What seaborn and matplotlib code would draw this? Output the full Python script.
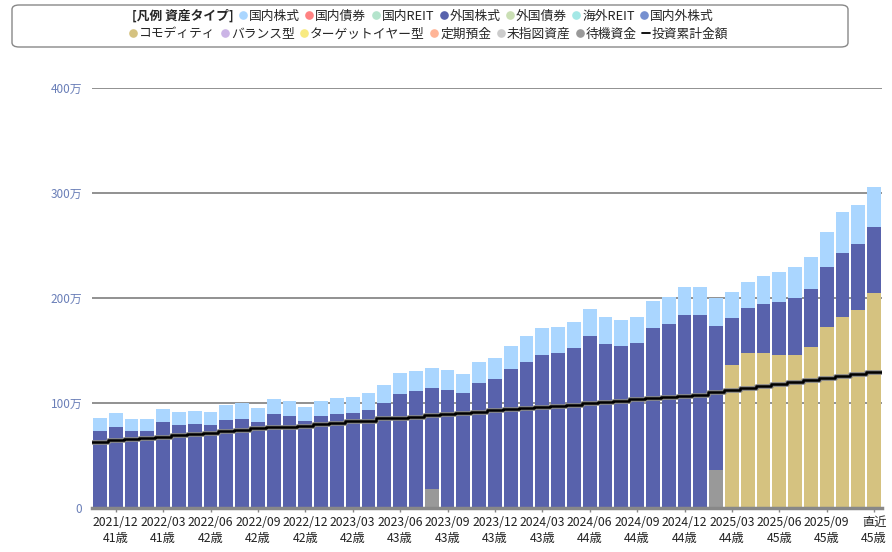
import numpy as np
import matplotlib
matplotlib.use('Agg')
import matplotlib.pyplot as plt
import matplotlib.patheffects as pe
from matplotlib.lines import Line2D
from matplotlib.patches import FancyBboxPatch
import seaborn as sns

# monthly asset breakdown (unit: 万円)
months = ['2021/11', '2021/12', '2022/01', '2022/02', '2022/03', '2022/04', '2022/05', '2022/06',
          '2022/07', '2022/08', '2022/09', '2022/10', '2022/11', '2022/12', '2023/01', '2023/02',
          '2023/03', '2023/04', '2023/05', '2023/06', '2023/07', '2023/08', '2023/09', '2023/10',
          '2023/11', '2023/12', '2024/01', '2024/02', '2024/03', '2024/04', '2024/05', '2024/06',
          '2024/07', '2024/08', '2024/09', '2024/10', '2024/11', '2024/12', '2025/01', '2025/02',
          '2025/03', '2025/04', '2025/05', '2025/06', '2025/07', '2025/08', '2025/09', '2025/10',
          '2025/11', '直近']

kokunai_kabu = [12.3, 13.4, 12.1, 12.1, 13.0, 13.0, 13.0, 13.0, 14.3, 14.9,
                13.7, 14.3, 14.9, 13.6, 14.9, 15.0, 15.8, 16.1, 17.8, 19.7,
                19.4, 19.4, 19.3, 18.7, 20.4, 20.7, 22.5, 24.7, 25.7, 24.8,
                25.1, 25.7, 25.6, 25.4, 25.4, 26.4, 26.1, 27.3, 27.3, 26.4,
                25.0, 25.4, 27.0, 29.2, 29.8, 31.1, 33.4, 39.0, 37.8, 38.1]
gaikoku_kabu = [73.7, 76.8, 73.0, 73.0, 81.6, 78.7, 79.7, 78.7, 83.5, 85.1,
                81.9, 89.8, 87.3, 82.9, 87.3, 90.0, 90.2, 93.7, 99.7, 108.6,
                111.4, 95.9, 112.4, 109.2, 119.0, 122.5, 132.1, 139.4, 146.0, 147.9,
                152.4, 164.1, 156.6, 154.0, 156.8, 171.1, 175.2, 183.5, 183.5, 137.1,
                44.5, 42.9, 46.4, 49.9, 54.0, 55.3, 57.4, 61.0, 62.2, 63.1]
commodity = [0] * 40 + [136.5, 147.3, 147.9, 146.0, 146.0, 153.0, 172.4, 182.2, 188.9, 204.8]
taiki = [0] * 21 + [18.4] + [0] * 17 + [36.2] + [0] * 10
invest_total = [63.2, 64.8, 66.0, 67.0, 67.9, 69.5, 70.5, 71.7, 73.0, 74.0,
                75.9, 76.8, 77.5, 78.4, 80.3, 81.3, 82.5, 83.2, 85.4, 86.0,
                87.0, 88.3, 89.8, 90.5, 91.1, 93.0, 94.6, 95.6, 96.5, 97.5,
                98.4, 100.0, 100.8, 102.2, 103.8, 104.8, 105.7, 106.7, 107.6, 110.8,
                112.7, 114.3, 116.5, 118.4, 120.3, 122.2, 124.1, 126.0, 127.9, 129.8]

tick_months = ['2021/12', '2022/03', '2022/06', '2022/09', '2022/12', '2023/03', '2023/06',
               '2023/09', '2023/12', '2024/03', '2024/06', '2024/09', '2024/12', '2025/03',
               '2025/06', '2025/09', '直近']
tick_ages = ['41歳', '41歳', '42歳', '42歳', '42歳', '42歳', '43歳', '43歳', '43歳', '43歳',
             '44歳', '44歳', '44歳', '44歳', '45歳', '45歳', '45歳']
yticks = [0, 100, 200, 300, 400]

legend_row1 = ['国内株式', '国内債券', '国内REIT', '外国株式', '外国債券', '海外REIT', '国内外株式']
legend_row2 = ['コモディティ', 'バランス型', 'ターゲットイヤー型', '定期預金', '未指図資産', '待機資金']
colors = {'国内株式': '#aad6ff', '国内債券': '#ff8282', '国内REIT': '#b4e4cc', '外国株式': '#5862ac',
          '外国債券': '#cadfb4', '海外REIT': '#a4e8e6', '国内外株式': '#7690d0', 'コモディティ': '#d5c280',
          'バランス型': '#cbb4e6', 'ターゲットイヤー型': '#f8ea80', '定期預金': '#ffb496',
          '未指図資産': '#cccccc', '待機資金': '#999999'}

sns.set_theme(style='white')
plt.rcParams['font.family'] = ['Noto Sans CJK JP', 'DejaVu Sans']

fig = plt.figure(figsize=(8.92, 5.52), dpi=100)
ax = fig.add_axes([92 / 892, 44 / 552, 790 / 892, 420 / 552])

# stacked bars: draw cumulative heights from the top layer down
k = np.array(kokunai_kabu)
g = np.array(gaikoku_kabu)
c = np.array(commodity)
t = np.array(taiki)
layers = [('国内株式', k + g + c + t), ('外国株式', g + c + t), ('コモディティ', c + t), ('待機資金', t)]
for name, height in layers:
    sns.barplot(x=months, y=height, color=colors[name], saturation=1, width=0.88,
                linewidth=0, errorbar=None, ax=ax)

# cumulative investment as step line across bar edges
xs = np.arange(len(months) + 1) - 0.5
ys = invest_total + [invest_total[-1]]
ax.plot(xs, ys, drawstyle='steps-post', color='black', lw=1.8, zorder=5,
        path_effects=[pe.withStroke(linewidth=3.4, foreground='#8a8a8a')])

ax.set_xlim(-0.5, len(months) - 0.5)
ax.set_ylim(0, 400)
ax.set_yticks(yticks)
ax.set_yticklabels([f'{v}万' if v else '0' for v in yticks], color='#6a7fb8', fontsize=8.5)
ax.yaxis.grid(True, color='#888888', lw=1.3)
ax.set_axisbelow(True)
for s in ['top', 'right', 'left']:
    ax.spines[s].set_visible(False)
ax.spines['bottom'].set_color('#888888')
ax.spines['bottom'].set_linewidth(2.5)
ax.tick_params(axis='y', length=0, pad=7)
ax.tick_params(axis='x', length=3, width=1, color='#888888', pad=3, bottom=True)
ax.set_xticks([months.index(m) for m in tick_months])
ax.set_xticklabels([f'{m}\n{a}' for m, a in zip(tick_months, tick_ages)],
                   fontsize=8.8, color='#222222', linespacing=1.25)
ax.set_xlabel('')
ax.set_ylabel('')

# legend box
box = FancyBboxPatch((12 / 892, (552 - 47) / 552), 836 / 892, 42 / 552,
                     boxstyle='round,pad=0,rounding_size=0.008', transform=fig.transFigure,
                     facecolor='white', edgecolor='#888888', lw=1)
fig.patches.append(box)

h1 = [Line2D([], [], linestyle='', marker='')]
h1 += [Line2D([], [], linestyle='', marker='o', markersize=5.2, color=colors[n]) for n in legend_row1]
leg1 = fig.legend(h1, ['[凡例 資産タイプ]'] + legend_row1, loc='center', ncol=len(h1),
                  bbox_to_anchor=(418 / 892, 1 - 16 / 552), frameon=False, fontsize=9.2,
                  handlelength=0.6, handletextpad=0.15, columnspacing=0.45, borderpad=0, borderaxespad=0)
leg1.get_texts()[0].set_fontweight('bold')

h2 = [Line2D([], [], linestyle='', marker='o', markersize=5.2, color=colors[n]) for n in legend_row2]
h2 += [Line2D([], [], color='black', lw=1.3)]
fig.legend(h2, legend_row2 + ['投資累計金額'], loc='center', ncol=len(h2),
           bbox_to_anchor=(429 / 892, 1 - 34 / 552), frameon=False, fontsize=9.2,
           handlelength=0.6, handletextpad=0.15, columnspacing=0.45, borderpad=0, borderaxespad=0)

plt.savefig('out.png', dpi=100)
